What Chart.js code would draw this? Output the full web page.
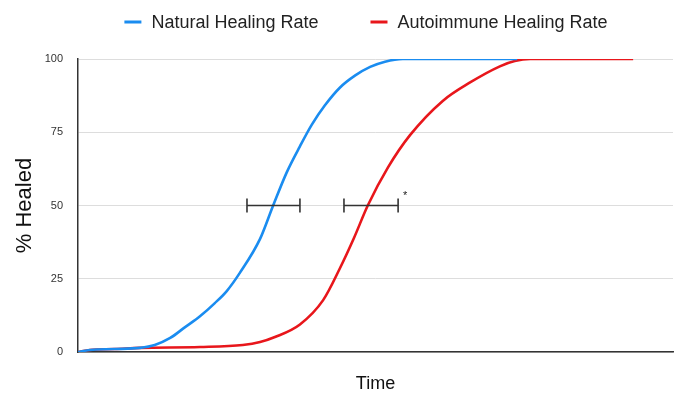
<!DOCTYPE html>
<html>
<head>
<meta charset="utf-8">
<script src="https://cdn.jsdelivr.net/npm/chart.js@4"></script>
<style>
  html, body { margin: 0; padding: 0; background: #fff; }
  #wrap { width: 678px; height: 395px; }
</style>
</head>
<body>
<div id="wrap"><canvas id="healChart" width="678" height="395"></canvas></div>
<script>
// time (0-100) and % healed
const naturalTime  = [0, 2.0, 6.2, 10.4, 12.9, 15.5, 18.0, 20.5, 23.0, 25.0, 27.2, 30.6, 32.8, 35.1, 37.3, 39.3, 41.5, 44.0, 46.6, 49.1, 51.6, 54.6, 73.8];
const naturalHealed = [0, 0.7, 1.0, 1.4, 2.4, 4.8, 8.5, 12.2, 16.7, 20.8, 27.0, 38.6, 50, 61.4, 70.2, 77.6, 84.2, 90.2, 94.4, 97.3, 99.1, 100, 100];

const autoTime   = [0, 2.0, 6.2, 10.4, 20.5, 27.7, 30.6, 33.1, 37.3, 41.2, 44.0, 46.4, 48.7, 52.1, 55.8, 61.3, 65.9, 70.9, 73.4, 76.0, 93.3];
const autoHealed = [0, 0.7, 1.0, 1.4, 1.7, 2.4, 3.4, 5.1, 9.4, 17.7, 28.5, 39.0, 50, 63.0, 74.0, 85.7, 92.0, 97.5, 99.3, 100, 100];

// horizontal error bars at 50% healed
const errY    = [50, 50];
const errLow  = [28.4, 44.7];
const errHigh = [37.3, 53.8];

const yTicks = [0, 25, 50, 75, 100];
const seriesNames = ["Natural Healing Rate", "Autoimmune Healing Rate"];
const seriesColors = ['#1a8cf0', '#e8161b'];

const FONT = "'Liberation Sans', Arial, Helvetica, sans-serif";

function toPoints(xs, ys) {
    return xs.map((x, i) => ({ x: x, y: ys[i] }));
}

const errorBarPlugin = {
    id: 'errorBars',
    afterDatasetsDraw(chart) {
        const ctx = chart.ctx;
        const xs = chart.scales.x, ys = chart.scales.y;
        ctx.save();
        ctx.strokeStyle = '#333';
        ctx.lineWidth = 1.6;
        for (let i = 0; i < errY.length; i++) {
            const y = ys.getPixelForValue(errY[i]);
            const x1 = xs.getPixelForValue(errLow[i]);
            const x2 = xs.getPixelForValue(errHigh[i]);
            ctx.beginPath();
            ctx.moveTo(x1, y); ctx.lineTo(x2, y);
            ctx.moveTo(x1, y - 7); ctx.lineTo(x1, y + 7);
            ctx.moveTo(x2, y - 7); ctx.lineTo(x2, y + 7);
            ctx.stroke();
        }
        // significance mark next to second bar
        ctx.fillStyle = '#222';
        ctx.font = '11px ' + FONT;
        ctx.textAlign = 'center';
        ctx.textBaseline = 'middle';
        ctx.fillText('*', xs.getPixelForValue(errHigh[1]) + 7, ys.getPixelForValue(errY[1]) - 10);
        ctx.restore();
    }
};

const lineLegendPlugin = {
    id: 'lineLegend',
    afterDraw(chart) {
        const ctx = chart.ctx;
        ctx.save();
        ctx.font = '18px ' + FONT;
        ctx.textBaseline = 'middle';
        ctx.textAlign = 'left';
        const boxW = 17, gap = 10, spacing = 52;
        const widths = chart.data.datasets.map(d => boxW + gap + ctx.measureText(d.label).width);
        const total = widths.reduce((a, b) => a + b, 0) + spacing * (widths.length - 1);
        let x = 366 - total / 2;
        const y = 22;
        chart.data.datasets.forEach((d, i) => {
            ctx.fillStyle = d.borderColor;
            ctx.fillRect(x, y - 1.5, boxW, 3);
            ctx.fillStyle = '#222';
            ctx.fillText(d.label, x + boxW + gap, y + 1);
            x += widths[i] + spacing;
        });
        ctx.restore();
    }
};

const ctx = document.getElementById('healChart').getContext('2d');

const healChart = new Chart(ctx, {
    type: 'line',
    data: {
        datasets: [{
            label: seriesNames[0],
            data: toPoints(naturalTime, naturalHealed),
            borderColor: seriesColors[0],
            backgroundColor: seriesColors[0],
            borderWidth: 2.6,
            pointRadius: 0,
            cubicInterpolationMode: 'monotone'
        }, {
            label: seriesNames[1],
            data: toPoints(autoTime, autoHealed),
            borderColor: seriesColors[1],
            backgroundColor: seriesColors[1],
            borderWidth: 2.6,
            pointRadius: 0,
            cubicInterpolationMode: 'monotone'
        }]
    },
    options: {
        responsive: false,
        animation: false,
        layout: { padding: { top: 59, right: 5, bottom: 0, left: 0 } },
        plugins: {
            legend: { display: false },
            tooltip: { enabled: false }
        },
        scales: {
            x: {
                type: 'linear',
                min: 0,
                max: 100,
                ticks: { display: false },
                grid: { display: false },
                border: { display: true, color: '#333', width: 1.5 },
                title: {
                    display: true,
                    text: 'Time',
                    color: '#111',
                    font: { family: FONT, size: 18 },
                    padding: { top: 0, bottom: 0 }
                },
                afterFit: s => { s.height = 43; }
            },
            y: {
                min: 0,
                max: 100,
                afterBuildTicks: s => { s.ticks = yTicks.map(v => ({ value: v })); },
                ticks: {
                    color: '#333',
                    padding: 15,
                    font: { family: FONT, size: 11 }
                },
                grid: { color: '#dddddd', drawTicks: false, lineWidth: 1 },
                border: { display: true, color: '#333', width: 1.5 },
                title: {
                    display: true,
                    text: '% Healed',
                    color: '#111',
                    font: { family: FONT, size: 22 },
                    padding: { top: 12, bottom: 0 }
                },
                afterFit: s => { s.width = 78; }
            }
        }
    },
    plugins: [errorBarPlugin, lineLegendPlugin]
});
</script>
</body>
</html>
